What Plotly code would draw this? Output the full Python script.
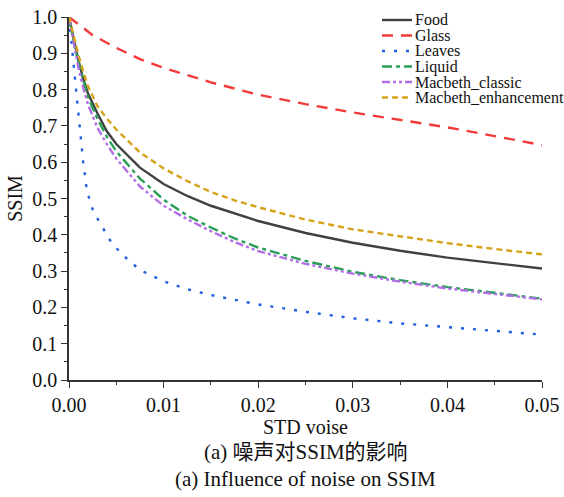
import plotly.graph_objects as go

# ---- data ----
x_common = [0, 0.0005, 0.001, 0.0015, 0.002, 0.003, 0.004, 0.005, 0.0075, 0.01,
            0.0125, 0.015, 0.0175, 0.02, 0.025, 0.03, 0.035, 0.04, 0.045, 0.05]
food = [1.0, 0.935, 0.88, 0.83, 0.79, 0.735, 0.685, 0.65, 0.585, 0.54,
        0.507, 0.48, 0.458, 0.438, 0.405, 0.378, 0.356, 0.337, 0.322, 0.307]
liquid = [1.0, 0.93, 0.875, 0.825, 0.78, 0.72, 0.67, 0.63, 0.555, 0.497,
          0.453, 0.42, 0.39, 0.365, 0.328, 0.298, 0.275, 0.256, 0.24, 0.224]
classic = [1.0, 0.925, 0.86, 0.805, 0.76, 0.695, 0.65, 0.61, 0.533, 0.48,
           0.443, 0.41, 0.38, 0.355, 0.32, 0.293, 0.271, 0.252, 0.237, 0.222]
enhancement = [1.0, 0.945, 0.895, 0.85, 0.81, 0.755, 0.72, 0.69, 0.627, 0.583,
               0.548, 0.518, 0.495, 0.476, 0.442, 0.415, 0.395, 0.377, 0.361, 0.346]

x_leaves = [0, 0.0002, 0.0004, 0.0006, 0.001, 0.0015, 0.0019, 0.0025, 0.003, 0.0045,
            0.0057, 0.0075, 0.01, 0.0125, 0.015, 0.0175, 0.02, 0.025, 0.03, 0.035,
            0.04, 0.045, 0.05]
leaves = [1.0, 0.945, 0.895, 0.84, 0.74, 0.60, 0.52, 0.47, 0.445, 0.378,
          0.344, 0.303, 0.272, 0.25, 0.234, 0.22, 0.208, 0.188, 0.17, 0.156,
          0.145, 0.135, 0.125]

x_glass = [0, 0.0025, 0.005, 0.0075, 0.01, 0.0125, 0.015, 0.02, 0.025, 0.03, 0.035, 0.04, 0.045, 0.05]
glass = [1.0, 0.95, 0.915, 0.884, 0.86, 0.84, 0.82, 0.786, 0.76, 0.737, 0.716, 0.696, 0.672, 0.647]

series = [
    ("Food", x_common, food, "#404040", "solid"),
    ("Glass", x_glass, glass, "#F23A3A", "11px,8px"),
    ("Leaves", x_leaves, leaves, "#1E5FE0", "3px,9px"),
    ("Liquid", x_common, liquid, "#2A9F58", "10px,4px,4px,4px"),
    ("Macbeth_classic", x_common, classic, "#B26EE6", "8px,3px,3px,3px,3px,3px"),
    ("Macbeth_enhancement", x_common, enhancement, "#D6A21A", "6px,4px"),
]

FONT = "Liberation Serif, Times New Roman, serif"

# plot-area geometry (pixels in the 564x497 figure)
W, H = 564, 497
L, R, T, B = 69, 542, 17, 380


def px_x(px):
    return (px - L) / (R - L)


def px_y(py):
    return (B - py) / (B - T)


fig = go.Figure()
for name, xs, ys, col, dash in series:
    fig.add_trace(go.Scatter(x=xs, y=ys, name=name, mode="lines", showlegend=False,
                             line=dict(color=col, width=2.4, dash=dash)))

# custom legend (compact, like the reference)
leg_y = [20, 35.5, 51, 66.5, 82, 97.5]
for (name, xs, ys, col, dash), yy in zip(series, leg_y):
    fig.add_shape(type="line", xref="paper", yref="paper",
                  x0=px_x(382), x1=px_x(412), y0=px_y(yy), y1=px_y(yy),
                  line=dict(color=col, width=2.4, dash=dash))
    fig.add_annotation(text=name, xref="paper", yref="paper", x=px_x(413), y=px_y(yy),
                       xanchor="left", yanchor="middle", showarrow=False,
                       font=dict(family=FONT, size=16, color="#111111"))

axis_common = dict(showline=True, linecolor="#333333", linewidth=1.5, ticks="outside",
                   ticklen=6, tickwidth=1.2, tickcolor="#333333", showgrid=False,
                   zeroline=False, tickfont=dict(family=FONT, size=20, color="#111111"),
                   mirror=False, automargin=False)

fig.update_layout(
    width=W, height=H,
    margin=dict(l=L, r=W - R, t=T, b=H - B),
    plot_bgcolor="white", paper_bgcolor="white",
    font=dict(family=FONT, color="#111111"),
    xaxis=dict(range=[0, 0.05], dtick=0.01, tickformat=".2f",
               minor=dict(dtick=0.005, ticks="outside", ticklen=3, tickcolor="#333333"),
               title=dict(text="STD voise", font=dict(family=FONT, size=20), standoff=2),
               **axis_common),
    yaxis=dict(range=[0, 1.0], dtick=0.1, tickformat=".1f",
               minor=dict(dtick=0.05, ticks="outside", ticklen=3, tickcolor="#333333"),
               title=dict(text="SSIM", font=dict(family=FONT, size=20), standoff=4),
               **axis_common),
    showlegend=False,
)

fig.add_annotation(text="(a) 噪声对SSIM的影响", xref="paper", yref="paper",
                   x=0.5, y=px_y(452), showarrow=False, xanchor="center", yanchor="middle",
                   font=dict(family="Liberation Serif, Noto Sans CJK SC", size=21))
fig.add_annotation(text="(a) Influence of noise on SSIM", xref="paper", yref="paper",
                   x=0.5, y=px_y(479), showarrow=False, xanchor="center", yanchor="middle",
                   font=dict(family=FONT, size=21))

fig.write_html("out.html", config={"displayModeBar": False},
               post_script="document.body.style.margin='0px';")
